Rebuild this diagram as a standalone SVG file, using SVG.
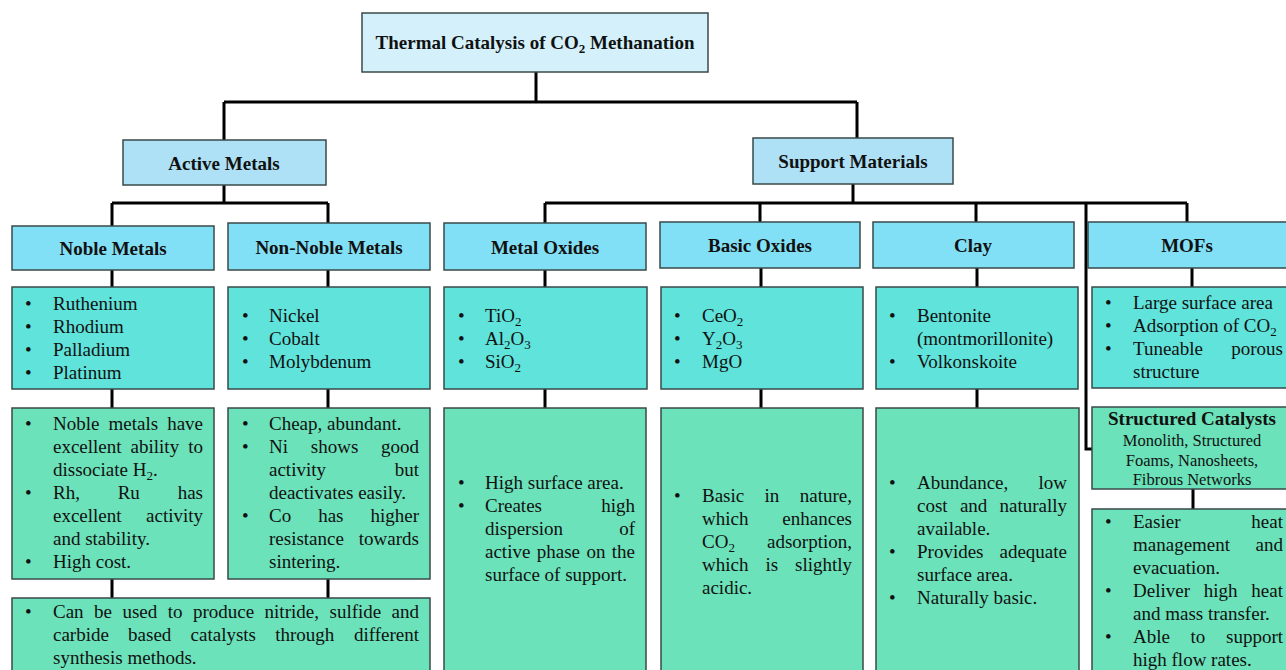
<svg xmlns="http://www.w3.org/2000/svg" width="1286" height="670" viewBox="0 0 1286 670">
<style>
text{font-family:"Liberation Serif","Times New Roman",serif;fill:#111;font-size:19px}
.h{font-weight:bold;text-anchor:middle}
.b{stroke:#3a4a4a;stroke-width:1.5}
.t0{fill:#d4f1fb}
.t1{fill:#aee1f6}
.t2{fill:#82e0f6}
.t3{fill:#5fe3da}
.t4{fill:#6be2b9}
.c{fill:none;stroke:#000;stroke-width:3}
.e{text-anchor:end}
.s{font-size:16.5px;text-anchor:middle}
.sb{font-size:13px}
</style>
<rect width="1286" height="670" fill="#fff"/>
<g id="connectors" class="c">
<path d="M536 72V102M224 102H857M224 102V140M857 102V138"/>
<path d="M224 185V203M112 203H328M112 203V226M328 203V223"/>
<path d="M853 184V203M545 203H1187M545 203V223M760 203V222M976 203V222M1187 203V222M1086 203V449H1092"/>
<path d="M112 270V287M112 389V408M328 270V287M328 389V408M112 579V598M328 579V598"/>
<path d="M545 270V287M545 389V408M761 268V287M761 389V408M977 268V287M977 389V408M1192 268V287M1193 489V509"/>
</g>
<g id="title"><rect class="b t0" x="362" y="13" width="346" height="59"/>
<text class="h" x="535" y="49">Thermal Catalysis of CO<tspan class="sb" dy="4">2</tspan><tspan dy="-4"> Methanation</tspan></text></g>
<g id="active-metals"><rect class="b t1" x="123" y="140" width="203" height="45"/><text class="h" x="224" y="170">Active Metals</text></g>
<g id="support-materials"><rect class="b t1" x="753" y="138" width="200" height="46"/><text class="h" x="853" y="168">Support Materials</text></g>
<g id="noble-metals"><rect class="b t2" x="12" y="226" width="202" height="44"/><text class="h" x="113" y="255">Noble Metals</text></g>
<g id="non-noble-metals"><rect class="b t2" x="228" y="223" width="202" height="47"/><text class="h" x="329" y="254">Non-Noble Metals</text></g>
<g id="metal-oxides"><rect class="b t2" x="444" y="223" width="202" height="47"/><text class="h" x="545" y="254">Metal Oxides</text></g>
<g id="basic-oxides"><rect class="b t2" x="660" y="222" width="200" height="46"/><text class="h" x="760" y="252">Basic Oxides</text></g>
<g id="clay"><rect class="b t2" x="873" y="222" width="201" height="46"/><text class="h" x="973" y="252">Clay</text></g>
<g id="mofs"><rect class="b t2" x="1088" y="222" width="210" height="46"/><text class="h" x="1187" y="252">MOFs</text></g>

<g id="noble-list"><rect class="b t3" x="12" y="287" width="202" height="102"/>
<text x="25" y="310">•</text><text x="53" y="310">Ruthenium</text>
<text x="25" y="333">•</text><text x="53" y="333">Rhodium</text>
<text x="25" y="356">•</text><text x="53" y="356">Palladium</text>
<text x="25" y="379">•</text><text x="53" y="379">Platinum</text></g>
<g id="non-noble-list"><rect class="b t3" x="228" y="287" width="202" height="102"/>
<text x="242" y="322">•</text><text x="269" y="322">Nickel</text>
<text x="242" y="345">•</text><text x="269" y="345">Cobalt</text>
<text x="242" y="368">•</text><text x="269" y="368">Molybdenum</text></g>
<g id="metal-oxides-list"><rect class="b t3" x="444" y="287" width="203" height="102"/>
<text x="458" y="322">•</text><text x="485" y="322">TiO<tspan class="sb" dy="4">2</tspan></text>
<text x="458" y="345">•</text><text x="485" y="345">Al<tspan class="sb" dy="4">2</tspan><tspan dy="-4">O</tspan><tspan class="sb" dy="4">3</tspan></text>
<text x="458" y="368">•</text><text x="485" y="368">SiO<tspan class="sb" dy="4">2</tspan></text></g>
<g id="basic-oxides-list"><rect class="b t3" x="661" y="287" width="202" height="102"/>
<text x="674" y="322">•</text><text x="702" y="322">CeO<tspan class="sb" dy="4">2</tspan></text>
<text x="674" y="345">•</text><text x="702" y="345">Y<tspan class="sb" dy="4">2</tspan><tspan dy="-4">O</tspan><tspan class="sb" dy="4">3</tspan></text>
<text x="674" y="368">•</text><text x="702" y="368">MgO</text></g>
<g id="clay-list"><rect class="b t3" x="876" y="287" width="202" height="102"/>
<text x="889" y="322">•</text><text x="917" y="322">Bentonite</text>
<text x="917" y="345">(montmorillonite)</text>
<text x="889" y="368">•</text><text x="917" y="368">Volkonskoite</text></g>
<g id="mofs-list"><rect class="b t3" x="1092" y="287" width="206" height="101"/>
<text x="1105" y="309">•</text><text x="1133" y="309">Large surface area</text>
<text x="1105" y="332">•</text><text x="1133" y="332">Adsorption of CO<tspan class="sb" dy="4">2</tspan></text>
<text x="1105" y="355">•</text><text x="1133" y="355">Tuneable</text><text class="e" x="1283" y="355">porous</text>
<text x="1133" y="378">structure</text></g>

<g id="noble-desc"><rect class="b t4" x="12" y="408" width="202" height="171"/>
<text x="25" y="430">•</text><text x="53" y="430">Noble</text><text x="108.5" y="430">metals</text><text class="e" x="203" y="430">have</text>
<text x="53" y="453">excellent</text><text x="130.6" y="453">ability</text><text class="e" x="203" y="453">to</text>
<text x="53" y="476">dissociate H<tspan class="sb" dy="4">2</tspan><tspan dy="-4">.</tspan></text>
<text x="25" y="499">•</text><text x="53" y="499">Rh,</text><text x="117.7" y="499">Ru</text><text class="e" x="203" y="499">has</text>
<text x="53" y="522">excellent</text><text class="e" x="203" y="522">activity</text>
<text x="53" y="545">and stability.</text>
<text x="25" y="568">•</text><text x="53" y="568">High cost.</text></g>
<g id="non-noble-desc"><rect class="b t4" x="228" y="408" width="202" height="171"/>
<text x="242" y="430">•</text><text x="269" y="430">Cheap, abundant.</text>
<text x="242" y="453">•</text><text x="269" y="453">Ni</text><text x="310.8" y="453">shows</text><text class="e" x="419" y="453">good</text>
<text x="269" y="476">activity</text><text class="e" x="419" y="476">but</text>
<text x="269" y="499">deactivates easily.</text>
<text x="242" y="522">•</text><text x="269" y="522">Co</text><text x="318.2" y="522">has</text><text class="e" x="419" y="522">higher</text>
<text x="269" y="545">resistance</text><text class="e" x="419" y="545">towards</text>
<text x="269" y="568">sintering.</text></g>
<g id="active-common"><rect class="b t4" x="12" y="598" width="418" height="82"/>
<text x="25" y="618">•</text><text x="53" y="618">Can</text><text x="94.1" y="618">be</text><text x="122.4" y="618">used</text><text x="167.7" y="618">to</text><text x="193" y="618">produce</text><text x="264.6" y="618">nitride,</text><text x="329.5" y="618">sulfide</text><text class="e" x="419" y="618">and</text>
<text x="53" y="641">carbide</text><text x="128.1" y="641">based</text><text x="190.6" y="641">catalysts</text><text x="275.2" y="641">through</text><text class="e" x="419" y="641">different</text>
<text x="53" y="664">synthesis methods.</text></g>
<g id="metal-oxides-desc"><rect class="b t4" x="444" y="408" width="202" height="272"/>
<text x="458" y="489">•</text><text x="485" y="489">High surface area.</text>
<text x="458" y="512">•</text><text x="485" y="512">Creates</text><text class="e" x="635" y="512">high</text>
<text x="485" y="535">dispersion</text><text class="e" x="635" y="535">of</text>
<text x="485" y="558">active</text><text x="536.8" y="558">phase</text><text x="586.5" y="558">on</text><text class="e" x="635" y="558">the</text>
<text x="485" y="581">surface of support.</text></g>
<g id="basic-oxides-desc"><rect class="b t4" x="661" y="408" width="202" height="272"/>
<text x="674" y="502">•</text><text x="702" y="502">Basic</text><text x="764.6" y="502">in</text><text class="e" x="852" y="502">nature,</text>
<text x="702" y="525">which</text><text class="e" x="852" y="525">enhances</text>
<text x="702" y="548">CO<tspan class="sb" dy="4">2</tspan></text><text class="e" x="852" y="548">adsorption,</text>
<text x="702" y="571">which</text><text x="765.4" y="571">is</text><text class="e" x="852" y="571">slightly</text>
<text x="702" y="594">acidic.</text></g>
<g id="clay-desc"><rect class="b t4" x="876" y="408" width="203" height="272"/>
<text x="889" y="489">•</text><text x="917" y="489">Abundance,</text><text class="e" x="1067" y="489">low</text>
<text x="917" y="512">cost</text><text x="959.9" y="512">and</text><text class="e" x="1067" y="512">naturally</text>
<text x="917" y="535">available.</text>
<text x="889" y="558">•</text><text x="917" y="558">Provides</text><text class="e" x="1067" y="558">adequate</text>
<text x="917" y="581">surface area.</text>
<text x="889" y="604">•</text><text x="917" y="604">Naturally basic.</text></g>
<g id="structured-catalysts"><rect class="b t4" x="1092" y="407" width="206" height="82"/>
<text class="h" x="1192" y="425">Structured Catalysts</text>
<text class="s" x="1192" y="446">Monolith, Structured</text>
<text class="s" x="1192" y="466">Foams, Nanosheets,</text>
<text class="s" x="1192" y="485">Fibrous Networks</text></g>
<g id="structured-desc"><rect class="b t4" x="1092" y="509" width="206" height="171"/>
<text x="1105" y="528">•</text><text x="1133" y="528">Easier</text><text class="e" x="1283" y="528">heat</text>
<text x="1133" y="551">management</text><text class="e" x="1283" y="551">and</text>
<text x="1133" y="574">evacuation.</text>
<text x="1105" y="597">•</text><text x="1133" y="597">Deliver</text><text x="1203.8" y="597">high</text><text class="e" x="1283" y="597">heat</text>
<text x="1133" y="620">and mass transfer.</text>
<text x="1105" y="643">•</text><text x="1133" y="643">Able</text><text x="1190.5" y="643">to</text><text class="e" x="1283" y="643">support</text>
<text x="1133" y="666">high flow rates.</text></g>
</svg>
